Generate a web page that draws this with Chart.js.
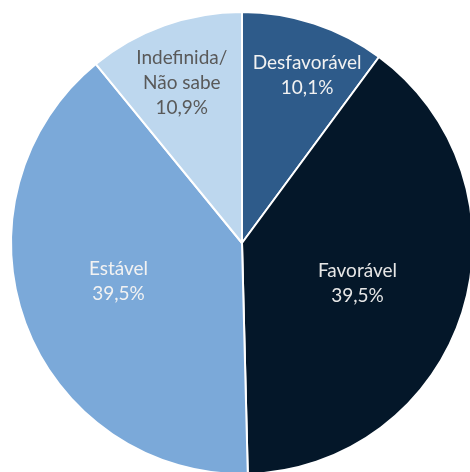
<!DOCTYPE html>
<html>
<head>
<meta charset="utf-8">
<script src="https://cdn.jsdelivr.net/npm/chart.js@4.4.0/dist/chart.umd.min.js"></script>
<style>
  html, body { margin: 0; padding: 0; background: #fff; }
  #wrap { position: relative; width: 470px; height: 472px; overflow: hidden; }
  #pie { position: absolute; left: 0; top: 0; }
</style>
</head>
<body>
<div id="wrap"><canvas id="pie" width="484" height="486"></canvas></div>
<script>
// data
const categories = ['Desfavorável', 'Favorável', 'Estável', 'Indefinida/\nNão sabe'];
const shares = [10.1, 39.5, 39.5, 10.9];

const sliceColors = ['#2E5B8A', '#041729', '#7BA9D9', '#BDD7EE'];
const textColors = ['#F2F2F2', '#E6E6E6', '#F2F2F2', '#595959'];
// where the label sits: fraction of radius, small angle nudge in degrees
const labelRadius = [0.78, 0.53, 0.56, 0.74];
const labelNudge = [3, 2, 3, -1];

const labelPlugin = {
  id: 'sliceLabels',
  afterDatasetsDraw(chart) {
    const ctx = chart.ctx;
    const meta = chart.getDatasetMeta(0);
    ctx.save();
    ctx.font = '19px Lato, "Open Sans", sans-serif';
    ctx.textAlign = 'center';
    ctx.textBaseline = 'middle';
    meta.data.forEach((arc, i) => {
      const p = arc.getProps(['x', 'y', 'startAngle', 'endAngle', 'outerRadius'], true);
      const a = (p.startAngle + p.endAngle) / 2 + labelNudge[i] * Math.PI / 180;
      const r = p.outerRadius * labelRadius[i];
      const cx = p.x + Math.cos(a) * r;
      const cy = p.y + Math.sin(a) * r;
      const lines = categories[i].split('\n').concat([shares[i].toFixed(1).replace('.', ',') + '%']);
      const lh = 25;
      ctx.fillStyle = textColors[i];
      lines.forEach((t, k) => {
        ctx.fillText(t, cx, cy + (k - (lines.length - 1) / 2) * lh);
      });
    });
    ctx.restore();
  }
};

new Chart(document.getElementById('pie'), {
  type: 'pie',
  data: {
    labels: categories,
    datasets: [{
      data: shares,
      backgroundColor: sliceColors,
      borderColor: '#FFFFFF',
      borderWidth: 2
    }]
  },
  options: {
    responsive: false,
    animation: false,
    layout: { padding: 10 },
    plugins: {
      legend: { display: false },
      tooltip: { enabled: false }
    }
  },
  plugins: [labelPlugin]
});
</script>
</body>
</html>
